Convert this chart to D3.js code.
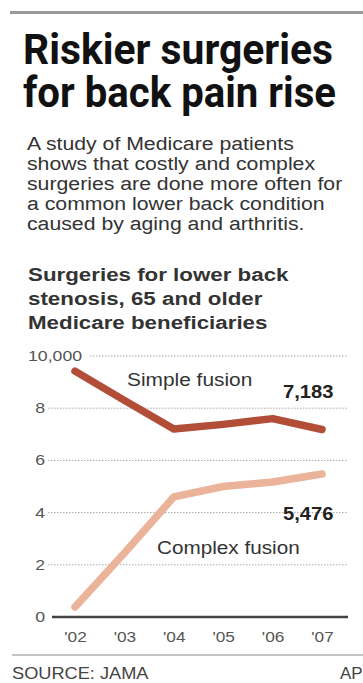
<!doctype html>
<html lang="en">
<head>
<meta charset="utf-8">
<title>Riskier surgeries for back pain rise</title>
<style>
  body { margin: 0; background: #fff; }
  svg text { font-family: "Liberation Sans", Arial, sans-serif; }
</style>
</head>
<body>
<div id="chart"></div>
<script src="https://cdn.jsdelivr.net/npm/d3@7"></script>
<script>
var years = ["'02", "'03", "'04", "'05", "'06", "'07"];
var simpleFusion = [9420, 8300, 7200, 7380, 7600, 7183];
var complexFusion = [380, 2450, 4600, 5000, 5170, 5476];
var yTicks = [0, 2000, 4000, 6000, 8000, 10000];
var tickLabels = ["0", "2", "4", "6", "8", "10,000"];

var titleLines = ["Riskier surgeries", "for back pain rise"];
var introLines = [
  "A study of Medicare patients",
  "shows that costly and complex",
  "surgeries are done more often for",
  "a common lower back condition",
  "caused by aging and arthritis."
];
var subLines = ["Surgeries for lower back", "stenosis, 65 and older", "Medicare beneficiaries"];

var width = 363, height = 683;

// the original type is set a little wider than Liberation Sans
function stretch(sel, k) {
  sel.each(function() {
    var w = this.getComputedTextLength();
    d3.select(this)
      .attr("textLength", w * k)
      .attr("lengthAdjust", "spacingAndGlyphs");
  });
}

var svg = d3.select("#chart").append("svg")
  .attr("width", width)
  .attr("height", height);

// top rule
svg.append("rect")
  .attr("x", 10).attr("y", 11)
  .attr("width", 353).attr("height", 3)
  .attr("fill", "#9a9a9a");

// headline (condensed bold)
svg.selectAll(".title").data(titleLines).enter().append("text")
  .attr("class", "title")
  .attr("x", 23)
  .attr("y", function(d, i) { return 64 + i * 43; })
  .attr("textLength", function(d, i) { return i == 0 ? 310 : 313; })
  .attr("lengthAdjust", "spacingAndGlyphs")
  .style("font-family", "'Liberation Sans Narrow', 'Roboto', sans-serif")
  .style("font-weight", "bold")
  .style("font-size", "42px")
  .attr("fill", "#111")
  .text(function(d) { return d; });

// intro text
var intro = svg.selectAll(".intro").data(introLines).enter().append("text")
  .attr("class", "intro")
  .attr("x", 27)
  .attr("y", function(d, i) { return 150 + i * 20; })
  .style("font-size", "18px")
  .attr("fill", "#333")
  .text(function(d) { return d; });
stretch(intro, 1.18);

// chart subtitle
var sub = svg.selectAll(".sub").data(subLines).enter().append("text")
  .attr("class", "sub")
  .attr("x", 28)
  .attr("y", function(d, i) { return 281 + i * 24; })
  .style("font-size", "18px")
  .style("font-weight", "bold")
  .attr("fill", "#333")
  .text(function(d) { return d; });
stretch(sub, 1.24);

// scales
var x = d3.scalePoint().domain(years).range([75, 322]);
var y = d3.scaleLinear().domain([0, 10000]).range([617, 356]);

// dotted gridlines
svg.selectAll(".grid").data(yTicks.slice(1)).enter().append("line")
  .attr("class", "grid")
  .attr("x1", function(d) { return d == 10000 ? 90 : 48; })
  .attr("x2", 347)
  .attr("y1", function(d) { return y(d); })
  .attr("y2", function(d) { return y(d); })
  .attr("stroke", "#a8a8a8")
  .attr("stroke-width", 1)
  .attr("stroke-dasharray", "1.5,1.5");

// y labels
var ylab = svg.selectAll(".ylab").data(yTicks).enter().append("text")
  .attr("class", "ylab")
  .attr("x", function(d) { return d == 10000 ? 28 : 45; })
  .attr("y", function(d) { return y(d) + 5; })
  .attr("text-anchor", function(d) { return d == 10000 ? "start" : "end"; })
  .style("font-size", "15px")
  .attr("fill", "#555")
  .text(function(d, i) { return tickLabels[i]; });
stretch(ylab, 1.18);

// x axis
var xAxis = d3.axisBottom(x).tickSize(0).tickPadding(14);
var gx = svg.append("g")
  .attr("transform", "translate(0," + y(0) + ")")
  .call(xAxis);
gx.select(".domain").remove();
gx.selectAll("text")
  .style("font-size", "15px")
  .style("font-family", "'Liberation Sans', Arial, sans-serif")
  .attr("fill", "#555");
stretch(gx.selectAll("text"), 1.15);

// lines
var line = d3.line()
  .x(function(d, i) { return x(years[i]); })
  .y(function(d) { return y(d); });

svg.append("path")
  .datum(complexFusion)
  .attr("d", line)
  .attr("fill", "none")
  .attr("stroke", "#ebb39a")
  .attr("stroke-width", 7.5)
  .attr("stroke-linejoin", "round")
  .attr("stroke-linecap", "round");

svg.append("path")
  .datum(simpleFusion)
  .attr("d", line)
  .attr("fill", "none")
  .attr("stroke", "#b24e38")
  .attr("stroke-width", 7.5)
  .attr("stroke-linejoin", "round")
  .attr("stroke-linecap", "round");

// baseline
svg.append("line")
  .attr("x1", 52).attr("x2", 348)
  .attr("y1", y(0)).attr("y2", y(0))
  .attr("stroke", "#444")
  .attr("stroke-width", 2.5);

// series labels
var lab1 = svg.append("text")
  .attr("x", 127).attr("y", 386)
  .style("font-size", "18px")
  .attr("fill", "#333")
  .text("Simple fusion");
stretch(lab1, 1.16);

var val1 = svg.append("text")
  .attr("x", 283).attr("y", 398)
  .style("font-size", "18px")
  .style("font-weight", "bold")
  .attr("fill", "#222")
  .text(d3.format(",")(simpleFusion[5]));
stretch(val1, 1.12);

var val2 = svg.append("text")
  .attr("x", 283).attr("y", 520)
  .style("font-size", "18px")
  .style("font-weight", "bold")
  .attr("fill", "#222")
  .text(d3.format(",")(complexFusion[5]));
stretch(val2, 1.12);

var lab2 = svg.append("text")
  .attr("x", 157).attr("y", 554)
  .style("font-size", "18px")
  .attr("fill", "#333")
  .text("Complex fusion");
stretch(lab2, 1.15);

// bottom rule and credits
svg.append("line")
  .attr("x1", 12).attr("x2", 363)
  .attr("y1", 655).attr("y2", 655)
  .attr("stroke", "#888")
  .attr("stroke-width", 1);

var src = svg.append("text")
  .attr("x", 12).attr("y", 679)
  .style("font-size", "17px")
  .attr("fill", "#444")
  .text("SOURCE: JAMA");
stretch(src, 1.07);

svg.append("text")
  .attr("x", 340).attr("y", 679)
  .style("font-size", "17px")
  .attr("fill", "#444")
  .text("AP");
</script>
</body>
</html>
